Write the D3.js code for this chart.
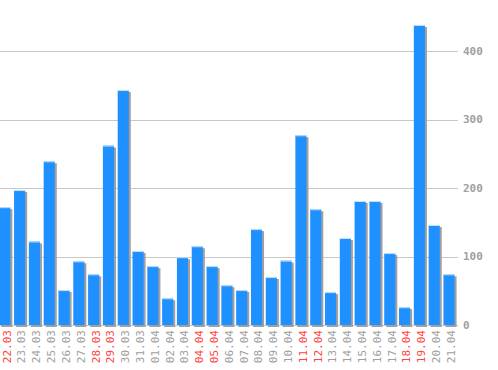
<!DOCTYPE html>
<html>
<head>
<meta charset="utf-8">
<script src="https://cdn.jsdelivr.net/npm/d3@7"></script>
<style>
  body { margin: 0; background: #fff; }
  text { font-family: "DejaVu Sans Mono", monospace; font-size: 11px; }
</style>
</head>
<body>
<svg id="chart" width="498" height="370"></svg>
<script>
// days shown on the x axis
var days = ['22.03', '23.03', '24.03', '25.03', '26.03', '27.03', '28.03', '29.03', '30.03', '31.03',
  '01.04', '02.04', '03.04', '04.04', '05.04', '06.04', '07.04', '08.04', '09.04', '10.04',
  '11.04', '12.04', '13.04', '14.04', '15.04', '16.04', '17.04', '18.04', '19.04', '20.04', '21.04']
// counts per day
var counts = [172, 197, 122, 239, 51, 93, 74, 262, 343, 108,
  86, 39, 99, 115, 86, 58, 51, 140, 70, 94,
  277, 169, 48, 127, 181, 181, 105, 26, 438, 146, 74]
// weekend days get red labels
var weekends = ['22.03', '28.03', '29.03', '04.04', '05.04', '11.04', '12.04', '18.04', '19.04']
var yTicks = [0, 100, 200, 300, 400]

var svg = d3.select('#chart')

var x = d3.scaleBand()
  .domain(days)
  .range([-2.6, 456.4])
  .paddingInner(0.25)
  .paddingOuter(0.125)

var y = d3.scaleLinear()
  .domain([0, 400])
  .range([325, 51])

// grid lines
svg.append('g').selectAll('line')
  .data(yTicks)
  .join('line')
  .attr('x1', 0)
  .attr('x2', 458)
  .attr('y1', d => Math.round(y(d)) + 0.5)
  .attr('y2', d => Math.round(y(d)) + 0.5)
  .attr('stroke', '#c8c8c8')
  .attr('stroke-width', 1)

// right side value labels
svg.append('g').selectAll('text')
  .data(yTicks)
  .join('text')
  .attr('x', 463)
  .attr('y', d => y(d))
  .attr('dy', '0.35em')
  .attr('fill', '#a0a0a0')
  .attr('font-weight', 'bold')
  .text(d => d)

var bars = svg.append('g').selectAll('g')
  .data(days)
  .join('g')

// shadow
bars.append('rect')
  .attr('x', d => x(d) + 2)
  .attr('y', (d, i) => y(counts[i]) + 2)
  .attr('width', x.bandwidth())
  .attr('height', (d, i) => y(0) - y(counts[i]))
  .attr('fill', '#a0a0a0')

// bar itself
bars.append('rect')
  .attr('x', d => x(d))
  .attr('y', (d, i) => y(counts[i]))
  .attr('width', x.bandwidth())
  .attr('height', (d, i) => y(0) - y(counts[i]))
  .attr('fill', '#1e90ff')

// light top edge
bars.append('rect')
  .attr('x', d => x(d))
  .attr('y', (d, i) => y(counts[i]))
  .attr('width', x.bandwidth())
  .attr('height', 1)
  .attr('fill', '#c8e2f8')

// day labels, rotated
svg.append('g').selectAll('text')
  .data(days)
  .join('text')
  .attr('transform', d => 'translate(' + (x(d) + x.bandwidth() / 2 + 2) + ',330) rotate(-90)')
  .attr('text-anchor', 'end')
  .attr('dy', '0.35em')
  .attr('fill', d => weekends.includes(d) ? '#ff4444' : '#a0a0a0')
  .text(d => d)
</script>
</body>
</html>
